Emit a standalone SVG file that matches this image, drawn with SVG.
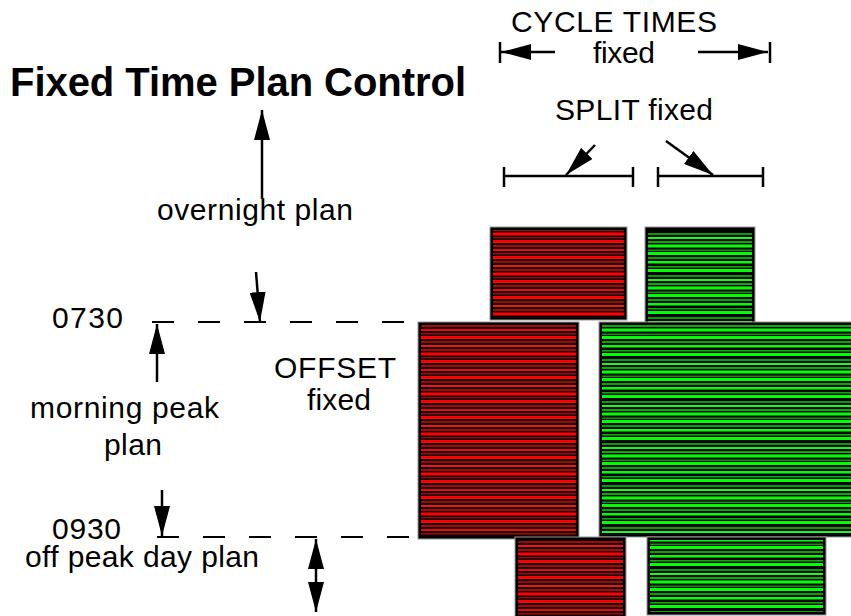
<svg xmlns="http://www.w3.org/2000/svg" width="851" height="616" viewBox="0 0 851 616">
<style>
text{font-family:"Liberation Sans",Arial,sans-serif;fill:#000;font-size:30px}
.title{font-weight:bold;font-size:40px}
.ln{stroke:#000;stroke-width:2.5;fill:none}
.dash{stroke:#000;stroke-width:2;stroke-dasharray:22 24;fill:none}
.blk{fill:#000;stroke:#999;stroke-width:1}
</style>
<defs>
<marker id="ah" viewBox="0 0 30 16" refX="30" refY="8" markerWidth="30" markerHeight="16" markerUnits="userSpaceOnUse" orient="auto-start-reverse">
<path d="M0,0 L30,8 L0,16 Z" fill="#000"/>
</marker>
<pattern id="red" patternUnits="userSpaceOnUse" width="10" height="40">
<rect width="10" height="40" fill="#000"/>
<rect y="0" width="10" height="3" fill="#ff0000"/>
<rect y="5" width="10" height="2" fill="#b80000"/>
<rect y="9" width="10" height="2" fill="#ff0000"/>
<rect y="13" width="10" height="1.5" fill="#c00000"/>
<rect y="16" width="10" height="3" fill="#ff0000"/>
<rect y="21" width="10" height="2" fill="#b00000"/>
<rect y="25" width="10" height="2" fill="#ff1010"/>
<rect y="29" width="10" height="2" fill="#c00000"/>
<rect y="32.5" width="10" height="3" fill="#ff0000"/>
<rect y="37" width="10" height="1.5" fill="#a80000"/>
</pattern>
<pattern id="green" patternUnits="userSpaceOnUse" width="10" height="42">
<rect width="10" height="42" fill="#000"/>
<rect y="0" width="10" height="3" fill="#00ff00"/>
<rect y="5" width="10" height="2" fill="#00a800"/>
<rect y="9" width="10" height="2.5" fill="#00ff00"/>
<rect y="14" width="10" height="1.5" fill="#00b000"/>
<rect y="17" width="10" height="3" fill="#00ff00"/>
<rect y="23" width="10" height="2" fill="#00a000"/>
<rect y="27" width="10" height="2" fill="#10ff10"/>
<rect y="31" width="10" height="2" fill="#00b000"/>
<rect y="34.5" width="10" height="3" fill="#00ff00"/>
<rect y="39.5" width="10" height="1.5" fill="#00a000"/>
</pattern>
</defs>

<g id="title"><text class="title" x="10" y="96" textLength="456" lengthAdjust="spacing">Fixed Time Plan Control</text></g>

<g id="labels">
<text x="511" y="32" textLength="206" lengthAdjust="spacing">CYCLE TIMES</text>
<text x="593" y="63" textLength="62" lengthAdjust="spacing">fixed</text>
<text x="555" y="120" textLength="158" lengthAdjust="spacing">SPLIT fixed</text>
<text x="157" y="220" textLength="196" lengthAdjust="spacing">overnight plan</text>
<text x="52" y="328" textLength="71" lengthAdjust="spacing">0730</text>
<text x="274" y="378" textLength="122" lengthAdjust="spacing">OFFSET</text>
<text x="307" y="410" textLength="64" lengthAdjust="spacing">fixed</text>
<text x="30" y="418" textLength="189" lengthAdjust="spacing">morning peak</text>
<text x="104" y="455" textLength="58" lengthAdjust="spacing">plan</text>
<text x="52" y="539" textLength="69" lengthAdjust="spacing">0930</text>
<text x="25" y="567" textLength="234" lengthAdjust="spacing">off peak day plan</text>
</g>

<g id="block-red-top"><rect class="blk" x="490" y="227" width="137" height="93"/><rect x="493" y="230" width="131" height="87" fill="url(#red)"/></g>
<g id="block-green-top"><rect class="blk" x="645" y="227" width="110" height="96"/><rect x="648" y="230" width="104" height="92" fill="url(#green)"/></g>
<g id="block-red-mid"><rect class="blk" x="418" y="322" width="161" height="217"/><rect x="421" y="325" width="155" height="211" fill="url(#red)"/></g>
<g id="block-green-mid"><rect class="blk" x="599" y="322" width="258" height="215"/><rect x="602" y="325" width="252" height="209" fill="url(#green)"/></g>
<g id="block-red-bot"><rect class="blk" x="515" y="537" width="111" height="82"/><rect x="518" y="540" width="105" height="76" fill="url(#red)"/></g>
<g id="block-green-bot"><rect class="blk" x="647" y="537" width="179" height="78"/><rect x="650" y="540" width="173" height="72" fill="url(#green)"/></g>

<g id="connectors">
<line class="dash" x1="152" y1="322" x2="410" y2="322"/>
<line class="dash" x1="157" y1="537" x2="410" y2="537"/>
<line class="ln" x1="500" y1="42" x2="500" y2="63"/>
<line class="ln" x1="555" y1="52" x2="501" y2="52" marker-end="url(#ah)"/>
<line class="ln" x1="698" y1="52" x2="768" y2="52" marker-end="url(#ah)"/>
<line class="ln" x1="770" y1="42" x2="770" y2="63"/>
<line class="ln" x1="504" y1="176" x2="633" y2="176"/>
<line class="ln" x1="504" y1="167" x2="504" y2="187"/>
<line class="ln" x1="633" y1="167" x2="633" y2="187"/>
<line class="ln" x1="595" y1="145" x2="566" y2="175" marker-end="url(#ah)"/>
<line class="ln" x1="658" y1="176" x2="763" y2="176"/>
<line class="ln" x1="658" y1="167" x2="658" y2="187"/>
<line class="ln" x1="763" y1="167" x2="763" y2="187"/>
<line class="ln" x1="666" y1="141" x2="713" y2="175" marker-end="url(#ah)"/>
<line class="ln" x1="262" y1="199" x2="262" y2="110" marker-end="url(#ah)"/>
<line class="ln" x1="256" y1="272" x2="260" y2="322" marker-end="url(#ah)"/>
<line class="ln" x1="157" y1="382" x2="157" y2="324" marker-end="url(#ah)"/>
<line class="ln" x1="162" y1="490" x2="162" y2="536" marker-end="url(#ah)"/>
<line class="ln" x1="316" y1="539" x2="316" y2="612" marker-start="url(#ah)" marker-end="url(#ah)"/>
</g>
</svg>
